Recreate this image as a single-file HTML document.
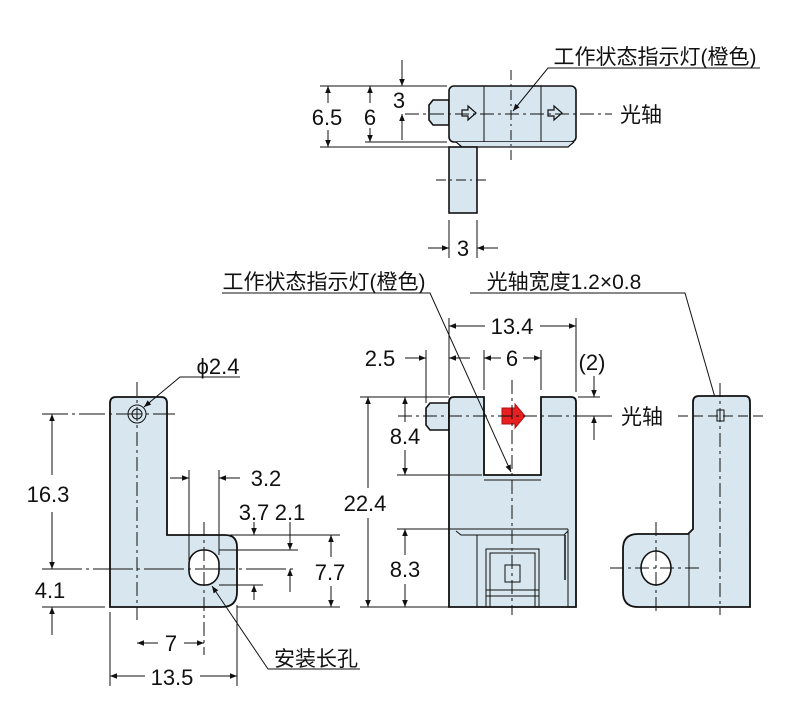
<!DOCTYPE html>
<html><head><meta charset="utf-8"><style>
html,body{margin:0;padding:0;background:#fff;}
svg{display:block;}
text{font-family:"Liberation Sans","Noto Sans CJK SC",sans-serif;fill:#111;}
</style></head><body>
<svg width="800" height="724" viewBox="0 0 800 724" xmlns="http://www.w3.org/2000/svg">
<defs>
<marker id="a" viewBox="0 0 10 10" refX="10" refY="5" markerWidth="11" markerHeight="7" orient="auto-start-reverse" markerUnits="userSpaceOnUse"><path d="M0,1 L10,5 L0,9 Z" fill="#111"/></marker>
</defs>
<g stroke="#111" stroke-width="1" fill="none">
<path d="M433,100 H449 V125 H433 L429,120 V105 Z" fill="#d8e6f0" stroke-width="1.6"/>
<rect x="449" y="86" width="127" height="56" rx="5" fill="#d8e6f0" stroke-width="1.6"/>
<path d="M456,142 L462,147 H568 L574,142" fill="#d8e6f0" stroke-width="1.2"/>
<rect x="449" y="147" width="28" height="66" fill="#d8e6f0" stroke-width="1.6"/>
<line x1="484" y1="86" x2="484" y2="142"/>
<line x1="541" y1="86" x2="541" y2="142"/>
<path d="M462,110 h6 v-4 l8,7 l-8,7 v-4 h-6 Z" stroke-width="1.2"/>
<path d="M548,110 h6 v-4 l8,7 l-8,7 v-4 h-6 Z" stroke-width="1.2"/>
<line x1="405" y1="114" x2="612" y2="114" stroke-dasharray="14,4,3,4"/>
<line x1="511" y1="70" x2="511" y2="160" stroke-dasharray="10,4,2,4"/>
<line x1="436" y1="180" x2="490" y2="180" stroke-dasharray="10,4,2,4"/>
<line x1="320" y1="86" x2="447" y2="86"/>
<line x1="320" y1="147" x2="460" y2="147"/>
<line x1="365" y1="142" x2="447" y2="142"/>
<line x1="328" y1="86" x2="328" y2="103" marker-start="url(#a)"/>
<line x1="328" y1="130" x2="328" y2="147" marker-end="url(#a)"/>
<line x1="370" y1="86" x2="370" y2="103" marker-start="url(#a)"/>
<line x1="370" y1="128" x2="370" y2="142" marker-end="url(#a)"/>
<line x1="402" y1="60" x2="402" y2="86" marker-end="url(#a)"/>
<line x1="402" y1="140" x2="402" y2="114" marker-end="url(#a)"/>
<line x1="449" y1="220" x2="449" y2="258"/>
<line x1="477" y1="220" x2="477" y2="258"/>
<line x1="428" y1="248" x2="449" y2="248" marker-end="url(#a)"/>
<line x1="498" y1="248" x2="477" y2="248" marker-end="url(#a)"/>
<path d="M760,68 H548 L513,111" marker-end="url(#a)"/>
<path d="M116,397 H161 Q167,397 167,403 V535 H225 Q237,535 237,547 V592 Q237,607 222,607 H110 V403 Q110,397 116,397 Z" fill="#d8e6f0" stroke-width="1.8"/>
<circle cx="137" cy="414" r="9"/>
<circle cx="137" cy="414" r="5"/>
<rect x="189" y="550" width="30" height="35" rx="14" fill="#fff" stroke-width="1.6"/>
<line x1="137" y1="382" x2="137" y2="620" stroke-dasharray="14,4,3,4"/>
<line x1="204" y1="522" x2="204" y2="655" stroke-dasharray="14,4,3,4"/>
<line x1="42" y1="414" x2="175" y2="414" stroke-dasharray="26,4,3,4"/>
<line x1="42" y1="569" x2="297" y2="569" stroke-dasharray="40,4,3,4"/>
<line x1="52" y1="414" x2="52" y2="475" marker-start="url(#a)"/>
<line x1="52" y1="512" x2="52" y2="569" marker-end="url(#a)"/>
<line x1="42" y1="607" x2="105" y2="607"/>
<line x1="52" y1="635" x2="52" y2="607" marker-end="url(#a)"/>
<line x1="189" y1="470" x2="189" y2="560"/>
<line x1="219" y1="470" x2="219" y2="555"/>
<line x1="170" y1="478" x2="189" y2="478" marker-end="url(#a)"/>
<line x1="240" y1="478" x2="219" y2="478" marker-end="url(#a)"/>
<line x1="230" y1="535" x2="340" y2="535"/>
<line x1="219" y1="550" x2="298" y2="550"/>
<line x1="219" y1="585" x2="263" y2="585"/>
<line x1="237" y1="607" x2="340" y2="607"/>
<line x1="254" y1="522" x2="254" y2="535" marker-end="url(#a)"/>
<line x1="254" y1="600" x2="254" y2="585" marker-end="url(#a)"/>
<line x1="290" y1="522" x2="290" y2="550" marker-end="url(#a)"/>
<line x1="290" y1="592" x2="290" y2="569" marker-end="url(#a)"/>
<line x1="331" y1="535" x2="331" y2="557" marker-start="url(#a)"/>
<line x1="331" y1="586" x2="331" y2="607" marker-end="url(#a)"/>
<line x1="110" y1="612" x2="110" y2="686"/>
<line x1="237" y1="605" x2="237" y2="686"/>
<line x1="137" y1="643" x2="158" y2="643" marker-start="url(#a)"/>
<line x1="184" y1="643" x2="204" y2="643" marker-end="url(#a)"/>
<line x1="110" y1="676" x2="145" y2="676" marker-start="url(#a)"/>
<line x1="200" y1="676" x2="237" y2="676" marker-end="url(#a)"/>
<path d="M240,377 H180 L144,407" marker-end="url(#a)"/>
<path d="M360,669 H268 L212,586" marker-end="url(#a)"/>
<path d="M430,403 H449 V430 H430 L426,425 V408 Z" fill="#d8e6f0" stroke-width="1.6"/>
<path d="M454,397 H484 V475 H541 V397 H571 Q576,397 576,402 V607 H449 V402 Q449,397 454,397 Z" fill="#d8e6f0" stroke-width="1.8"/>
<line x1="484" y1="480" x2="541" y2="480"/>
<line x1="455" y1="529" x2="568" y2="529"/>
<path d="M456,531 L461,535 H564 L568,531"/>
<line x1="477" y1="535" x2="477" y2="607"/>
<line x1="568" y1="529" x2="568" y2="607"/>
<line x1="565" y1="535" x2="565" y2="580" stroke-width="1.5"/>
<rect x="486" y="549" width="53" height="58"/>
<rect x="490" y="553" width="45" height="54"/>
<line x1="486" y1="590" x2="539" y2="590"/>
<line x1="486" y1="596" x2="539" y2="596"/>
<rect x="505" y="565" width="15" height="17"/>
<path d="M502,408 H515 V404 L525,416 L515,428 V424 H502 Z" fill="#e62020" stroke="#b01010"/>
<line x1="398" y1="416" x2="612" y2="416" stroke-dasharray="14,4,3,4"/>
<line x1="512" y1="380" x2="512" y2="615" stroke-dasharray="14,4,3,4"/>
<line x1="360" y1="397" x2="449" y2="397"/>
<line x1="360" y1="607" x2="449" y2="607"/>
<line x1="397" y1="475" x2="482" y2="475"/>
<line x1="397" y1="529" x2="455" y2="529"/>
<line x1="368" y1="397" x2="368" y2="488" marker-start="url(#a)"/>
<line x1="368" y1="518" x2="368" y2="607" marker-end="url(#a)"/>
<line x1="405" y1="397" x2="405" y2="422" marker-start="url(#a)"/>
<line x1="405" y1="450" x2="405" y2="475" marker-end="url(#a)"/>
<line x1="405" y1="529" x2="405" y2="555" marker-start="url(#a)"/>
<line x1="405" y1="584" x2="405" y2="607" marker-end="url(#a)"/>
<line x1="426" y1="350" x2="426" y2="403"/>
<line x1="449" y1="318" x2="449" y2="395"/>
<line x1="484" y1="350" x2="484" y2="390"/>
<line x1="541" y1="350" x2="541" y2="390"/>
<line x1="576" y1="318" x2="576" y2="392"/>
<line x1="405" y1="358" x2="426" y2="358" marker-end="url(#a)"/>
<line x1="470" y1="358" x2="449" y2="358" marker-end="url(#a)"/>
<line x1="484" y1="358" x2="501" y2="358" marker-start="url(#a)"/>
<line x1="523" y1="358" x2="541" y2="358" marker-end="url(#a)"/>
<line x1="449" y1="326" x2="485" y2="326" marker-start="url(#a)"/>
<line x1="540" y1="326" x2="576" y2="326" marker-end="url(#a)"/>
<line x1="578" y1="397" x2="600" y2="397"/>
<line x1="578" y1="416" x2="600" y2="416"/>
<line x1="594" y1="376" x2="594" y2="397" marker-end="url(#a)"/>
<line x1="594" y1="440" x2="594" y2="416" marker-end="url(#a)"/>
<path d="M222,293 H430 L511,472" marker-end="url(#a)"/>
<path d="M470,293 H685 L718,408" marker-end="url(#a)"/>
<path d="M638,534 H688 L693,529 V402 Q693,396 699,396 H745 Q750,396 750,402 V607 H638 Q623,607 623,592 V549 Q623,534 638,534 Z" fill="#d8e6f0" stroke-width="1.8"/>
<line x1="689" y1="534" x2="689" y2="607"/>
<ellipse cx="656" cy="568" rx="15" ry="17" fill="#fff" stroke-width="1.6"/>
<rect x="717" y="410" width="7" height="11"/>
<line x1="678" y1="416" x2="766" y2="416" stroke-dasharray="10,5"/>
<line x1="720" y1="383" x2="720" y2="615" stroke-dasharray="14,4,3,4"/>
<line x1="610" y1="568" x2="702" y2="568" stroke-dasharray="14,4,3,4"/>
<line x1="656" y1="522" x2="656" y2="615" stroke-dasharray="14,4,3,4"/>
</g>
<g font-size="22" text-anchor="middle">
<text x="655" y="64" font-size="21">工作状态指示灯(橙色)</text>
<text x="641" y="122" font-size="21">光轴</text>
<text x="327" y="125">6.5</text>
<text x="370" y="125">6</text>
<text x="399" y="108">3</text>
<text x="463" y="256">3</text>
<text x="324" y="289" font-size="21">工作状态指示灯(橙色)</text>
<text x="564" y="289" font-size="21">光轴宽度1.2×0.8</text>
<text x="512" y="334">13.4</text>
<text x="380" y="366">2.5</text>
<text x="512" y="366">6</text>
<text x="592" y="370">(2)</text>
<text x="642" y="424" font-size="21">光轴</text>
<text x="365" y="511">22.4</text>
<text x="405" y="444">8.4</text>
<text x="405" y="577">8.3</text>
<text x="218" y="374">ϕ2.4</text>
<text x="48" y="502">16.3</text>
<text x="50" y="598">4.1</text>
<text x="266" y="486">3.2</text>
<text x="254" y="520">3.7</text>
<text x="290" y="520">2.1</text>
<text x="330" y="580">7.7</text>
<text x="171" y="651">7</text>
<text x="172" y="685">13.5</text>
<text x="316" y="666" font-size="21">安装长孔</text>
</g>
</svg>
</body></html>
